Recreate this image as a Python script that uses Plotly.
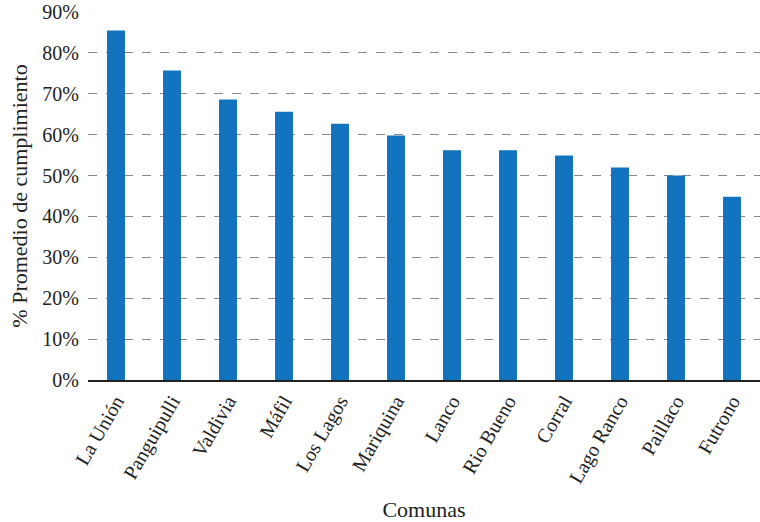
import plotly.graph_objects as go

comunas = ["La Unión", "Panguipulli", "Valdivia", "Máfil", "Los Lagos", "Mariquina",
           "Lanco", "Rio Bueno", "Corral", "Lago Ranco", "Paillaco", "Futrono"]
cumplimiento = [0.855, 0.757, 0.686, 0.656, 0.627, 0.598,
                0.562, 0.562, 0.549, 0.520, 0.500, 0.448]
y_ticks = [0, 0.1, 0.2, 0.3, 0.4, 0.5, 0.6, 0.7, 0.8, 0.9]
y_tick_labels = ["0%", "10%", "20%", "30%", "40%", "50%", "60%", "70%", "80%", "90%"]

font_family = "Liberation Serif, DejaVu Serif, serif"

fig = go.Figure(go.Bar(
    x=comunas,
    y=cumplimiento,
    marker=dict(color="#1172bd", line=dict(width=0)),
))

fig.update_layout(
    width=760, height=522,
    margin=dict(l=88, r=0, t=12, b=142),
    paper_bgcolor="white",
    plot_bgcolor="white",
    bargap=0.68,
    showlegend=False,
    font=dict(family=font_family, color="#222222"),
    xaxis=dict(
        title=dict(text="Comunas", font=dict(size=22), standoff=20),
        tickangle=-60,
        tickfont=dict(size=20),
        showline=True, linecolor="#222222", linewidth=1.5,
        showgrid=False, ticks="",
    ),
    yaxis=dict(
        title=dict(text="% Promedio de cumplimiento", font=dict(size=22), standoff=8),
        range=[0, 0.9],
        tickvals=y_ticks,
        ticktext=y_tick_labels,
        tickfont=dict(size=20),
        showgrid=True, gridcolor="#8a8a8a", griddash="dash", gridwidth=1,
        zeroline=False, showline=False, ticks="", ticklabelstandoff=8,
    ),
)

fig.write_html("out.html")
